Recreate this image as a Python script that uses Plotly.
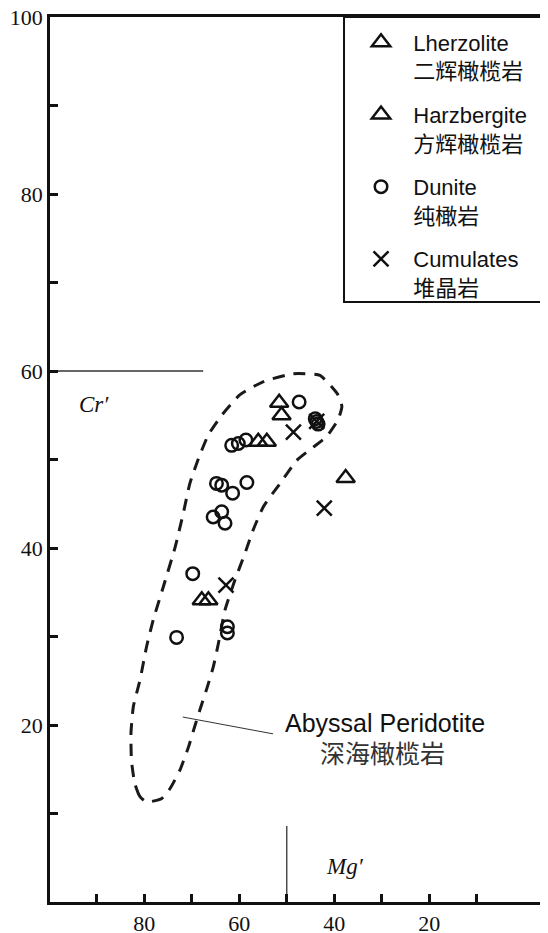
import plotly.graph_objects as go

# Mg' (x) and Cr' (y) values
lherz_x = [51.6, 56.0, 67.9, 37.6]
lherz_y = [56.4, 52.0, 34.1, 47.9]

harz_x = [51.1, 54.2, 66.5]
harz_y = [55.0, 52.0, 34.1]

dunite_x = [47.4, 43.7, 44.0, 43.4, 61.6, 60.2, 58.6, 64.8, 63.7, 61.4, 58.4,
            65.5, 63.7, 63.0, 69.8, 73.2, 62.5, 62.5]
dunite_y = [56.5, 54.3, 54.6, 54.0, 51.6, 51.8, 52.2, 47.3, 47.1, 46.2, 47.4,
            43.5, 44.1, 42.8, 37.1, 29.9, 31.1, 30.4]

cumul_x = [48.6, 42.1, 62.8, 43.7]
cumul_y = [53.1, 44.5, 35.8, 54.3]

# abyssal peridotite field outline
env_x = [79.5, 80.9, 82.0, 82.7, 82.8, 82.3, 80.9, 79.5, 78.1, 76.0, 73.5, 71.8,
         70.4, 68.6, 66.5, 63.7, 59.9, 54.9, 48.6, 43.0, 39.2, 38.4, 39.2, 41.6,
         44.4, 47.9, 51.4, 54.9, 57.1, 58.8, 60.9, 63.0, 64.4, 65.5, 66.9, 68.3,
         69.4, 70.7, 72.5, 74.6, 76.3, 79.5]
env_y = [11.3, 11.9, 13.4, 16.0, 19.1, 22.1, 25.1, 28.9, 31.9, 35.6, 40.1, 43.9,
         47.3, 50.1, 52.8, 55.0, 57.3, 58.8, 59.7, 59.5, 57.3, 56.0, 54.5, 52.6,
         51.4, 49.9, 47.3, 44.7, 42.0, 39.4, 36.4, 33.0, 29.2, 26.5, 24.0, 21.7,
         19.8, 17.5, 14.9, 12.8, 11.7, 11.3]

# guide lines
cr_line_x = [99.85, 67.6]
cr_line_y = [60, 60]
mg_line_x = [50, 50]
mg_line_y = [0, 8.6]
leader_x = [71.9, 52.9]
leader_y = [20.9, 19.0]

x_ticks = [20, 40, 60, 80]
y_ticks = [20, 40, 60, 80, 100]

SANS = "Liberation Sans, Arial, Noto Sans CJK SC"
SERIF = "Liberation Serif, Times New Roman, serif"
CJK = "Noto Sans CJK SC, Liberation Sans"


def main():
    fig = go.Figure()

    fig.add_trace(go.Scatter(
        x=env_x, y=env_y, mode='lines', showlegend=False, hoverinfo='skip',
        line=dict(color='#1a1a1a', width=3, dash='12px,9px', shape='spline', smoothing=0.5),
    ))
    for lx, ly, w in [(cr_line_x, cr_line_y, 1.3), (mg_line_x, mg_line_y, 1.3),
                      (leader_x, leader_y, 1)]:
        fig.add_trace(go.Scatter(
            x=lx, y=ly, mode='lines', showlegend=False, hoverinfo='skip',
            line=dict(color='#333333', width=w),
        ))

    pad = '&nbsp;&nbsp;'
    series = [
        ('Lherzolite', '二辉橄榄岩', lherz_x, lherz_y, 'triangle-up-open', 16),
        ('Harzbergite', '方辉橄榄岩', harz_x, harz_y, 'triangle-up-open', 16),
        ('Dunite', '纯橄岩', dunite_x, dunite_y, 'circle-open', 12.5),
        ('Cumulates', '堆晶岩', cumul_x, cumul_y, 'x-thin-open', 15),
    ]
    for i, (en, zh, xs, ys, sym, size) in enumerate(series):
        fig.add_trace(go.Scatter(
            x=xs, y=ys, mode='markers',
            name=f'{pad}{en}<br>{pad}{zh}',
            legendgroup=f'g{i}',
            marker=dict(symbol=sym, size=size, color='#111111',
                        line=dict(color='#111111', width=2.5)),
        ))

    axis_common = dict(
        showline=True, linecolor='#111111', linewidth=2.5,
        ticks='inside', ticklen=8, tickwidth=2.5, tickcolor='#111111',
        showgrid=False, zeroline=False, automargin=False,
        ticklabeloverflow='allow',
        tickfont=dict(family=SERIF, size=22, color='#111111'),
    )

    fig.update_xaxes(
        range=[99.85, -5.0], tickmode='array', tickvals=x_ticks,
        minor=dict(tickvals=[10, 30, 50, 70, 90], ticks='inside', ticklen=8,
                   tickwidth=2.5, tickcolor='#111111'),
        mirror=True,
        **axis_common,
    )
    fig.update_yaxes(
        range=[0, 100], tickmode='array', tickvals=y_ticks,
        minor=dict(tickvals=[0, 10, 30, 50, 70, 90], ticks='inside', ticklen=8,
                   tickwidth=2.5, tickcolor='#111111'),
        **axis_common,
    )

    # legend frame
    fig.add_shape(type='rect', xref='paper', yref='paper',
                  x0=0.5904, x1=1.02, y0=0.678, y1=1.0,
                  line=dict(color='#111111', width=2))

    fig.add_annotation(x=90.6, y=56.2, text='<i>Cr′</i>', showarrow=False,
                       font=dict(family=SERIF, size=23, color='#111111'))
    fig.add_annotation(x=37.7, y=4.0, text='<i>Mg′</i>', showarrow=False,
                       font=dict(family=SERIF, size=23, color='#111111'))
    fig.add_annotation(x=29.3, y=20.2, text='Abyssal Peridotite', showarrow=False,
                       font=dict(family=SANS, size=25, color='#111111'))
    fig.add_annotation(x=29.8, y=16.9, text='深海橄榄岩', showarrow=False,
                       font=dict(family=CJK, size=25, color='#333333'))

    # page body keeps its default 8px margin, so the figure is sized to fit inside it
    fig.update_layout(
        width=540, height=925,
        margin=dict(l=42, r=0, t=9, b=31),
        plot_bgcolor='white', paper_bgcolor='white',
        legend=dict(
            x=0.5904, xanchor='left', y=0.995, yanchor='top',
            bgcolor='rgba(0,0,0,0)', borderwidth=0,
            font=dict(family=SANS, size=22, color='#111111'),
            valign='top', indentation=17, tracegroupgap=12,
        ),
    )

    fig.write_html('out.html')


if __name__ == '__main__':
    main()
